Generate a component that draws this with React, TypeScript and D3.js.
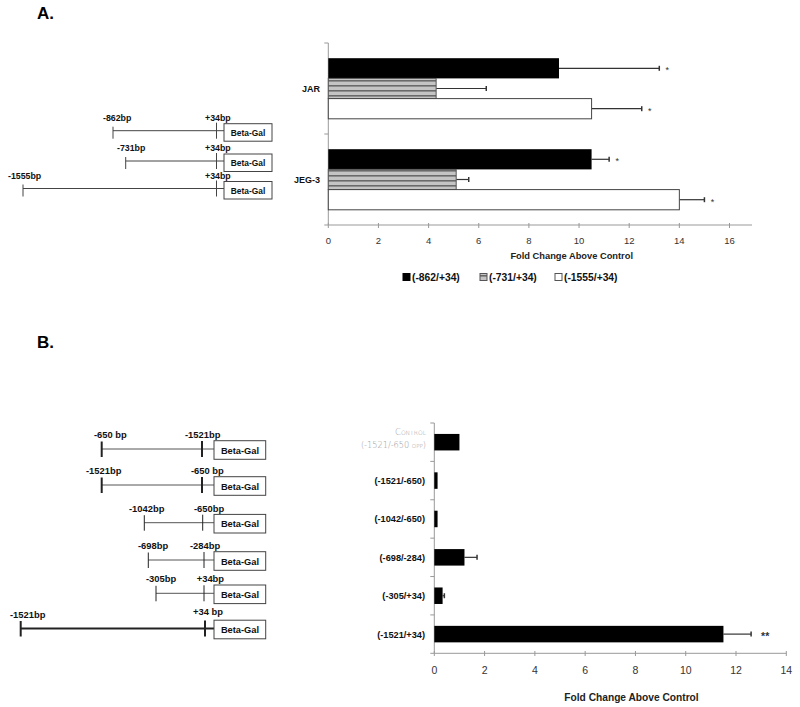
import React from "react";
import * as d3 from "d3";

// ---------- Panel A data ----------
const categoriesA = ["JAR", "JEG-3"];
const seriesA = ["(-862/+34)", "(-731/+34)", "(-1555/+34)"];
const valuesA = [
  [9.2, 4.3, 10.5],
  [10.5, 5.1, 14.0],
];
const errorsA = [
  [4.0, 2.0, 2.0],
  [0.7, 0.5, 1.0],
];
const starsA = [
  ["*", "", "*"],
  ["*", "", "*"],
];
const ticksA = [0, 2, 4, 6, 8, 10, 12, 14, 16];

// ---------- Panel B data ----------
const categoriesB = ["Control", "(-1521/-650)", "(-1042/-650)", "(-698/-284)", "(-305/+34)", "(-1521/+34)"];
const valuesB = [1.0, 0.13, 0.13, 1.2, 0.33, 11.5];
const errorsB = [0, 0, 0, 0.5, 0.07, 1.1];
const starsB = ["", "", "", "", "", "**"];
const ticksB = [0, 2, 4, 6, 8, 10, 12, 14];

// ---------- Construct labels ----------
const constructLabelsA = [
  ["-862bp", "+34bp"],
  ["-731bp", "+34bp"],
  ["-1555bp", "+34bp"],
];
const constructLabelsB = [
  ["-650 bp", "-1521bp"],
  ["-1521bp", "-650 bp"],
  ["-1042bp", "-650bp"],
  ["-698bp", "-284bp"],
  ["-305bp", "+34bp"],
  ["-1521bp", "+34 bp"],
];

// ---------- Schematic layout (drawing positions) ----------
const layoutA = [
  { y: 130.7, lx: 113, llx: 103, rx: 216.5, rlx: 205 },
  { y: 161, lx: 125.7, llx: 117, rx: 216.5, rlx: 205 },
  { y: 188.5, lx: 23, llx: 8, rx: 216.5, rlx: 205 },
];
const layoutB = [
  { y: 449, lx: 101.7, llx: 94, rx: 202, rlx: 185, tw: 2, lw: 1 },
  { y: 485, lx: 101.7, llx: 86, rx: 202, rlx: 191, tw: 2, lw: 1 },
  { y: 522.7, lx: 144.3, llx: 129, rx: 202.7, rlx: 194, tw: 1, lw: 1 },
  { y: 560, lx: 148.3, llx: 138, rx: 204, rlx: 190, tw: 1, lw: 1 },
  { y: 593.3, lx: 156, llx: 146, rx: 204, rlx: 196.7, tw: 1, lw: 1 },
  { y: 628.5, lx: 20.7, llx: 10, rx: 205, rlx: 193, tw: 2, lw: 2 },
];

const FONT = "'Liberation Sans', Arial, Helvetica, sans-serif";

export default function App() {
  // Panel A scales
  const xA = d3.scaleLinear().domain([0, 16]).range([328.3, 729.5]);
  const yA = d3.scaleBand<string>().domain(categoriesA).range([43, 225]);
  const bwA = yA.bandwidth();
  const padA = bwA * 0.167;

  // Panel B scales
  const xB = d3.scaleLinear().domain([0, 14]).range([434.3, 786.3]);
  const yB = d3.scaleBand<string>().domain(categoriesB).range([423, 653.3]);
  const bwB = yB.bandwidth();
  const barHB = bwB * 0.43;

  const fills = ["#000", "url(#stripes)", "#fff"];
  const strokes = ["#000", "#555", "#444"];

  return (
    <svg width={800} height={707} style={{ position: "absolute", left: 0, top: 0, background: "#fff" }} fontFamily={FONT}>
      <defs>
        <pattern id="stripes" patternUnits="userSpaceOnUse" width={6} height={5}>
          <rect width={6} height={5} fill="#c4c4c4" />
          <rect y={0} width={6} height={1.6} fill="#6a6a6a" />
        </pattern>
      </defs>
      <rect width={800} height={707} fill="#fff" />

      {/* ---------- Panel A ---------- */}
      <text x={37} y={19} fontSize={17} fontWeight="bold">A.</text>

      {/* constructs A */}
      {layoutA.map((r, i) => (
        <g key={"ca" + i} stroke="#444" strokeWidth={1}>
          <line x1={r.lx} x2={224} y1={r.y} y2={r.y} />
          <line x1={r.lx} x2={r.lx} y1={r.y - 4} y2={r.y + 8} />
          <line x1={r.rx} x2={r.rx} y1={r.y - 8} y2={r.y + 8} />
          <rect x={224} y={r.y - 7} width={48} height={17.5} fill="#fff" stroke="#444" />
          <text x={248} y={r.y + 5} fontSize={8.4} fontWeight="bold" textAnchor="middle" stroke="none" fill="#111">Beta-Gal</text>
          <text x={r.llx} y={r.y - 10} fontSize={8.8} fontWeight="bold" stroke="none" fill="#111">{constructLabelsA[i][0]}</text>
          <text x={r.rlx} y={r.y - 10} fontSize={8.8} fontWeight="bold" stroke="none" fill="#111">{constructLabelsA[i][1]}</text>
        </g>
      ))}

      {/* axes A */}
      <line x1={xA(0)} x2={xA(0)} y1={43} y2={225} stroke="#999" />
      {[43, 225].concat([yA(categoriesA[1]) as number]).map((t, i) => (
        <line key={"ayt" + i} x1={xA(0) - 4} x2={xA(0)} y1={t} y2={t} stroke="#999" />
      ))}
      <line x1={xA(0)} x2={752} y1={225} y2={225} stroke="#999" />
      {ticksA.map((t) => (
        <g key={"axt" + t}>
          <line x1={xA(t)} x2={xA(t)} y1={223} y2={228} stroke="#999" />
          <text x={xA(t)} y={243.5} fontSize={9.5} textAnchor="middle" fill="#333">{t}</text>
        </g>
      ))}
      <text x={571.7} y={258.5} fontSize={9.3} fontWeight="bold" textAnchor="middle" fill="#222">Fold Change Above Control</text>

      {categoriesA.map((c, ci) => {
        const y0 = (yA(c) as number) + padA;
        const sub = d3.scaleBand<string>().domain(seriesA).range([y0, y0 + bwA - 2 * padA]);
        return (
          <g key={"ga" + c}>
            <text x={320} y={(yA(c) as number) + bwA / 2 + 3.5} fontSize={9} fontWeight="bold" textAnchor="end" fill="#111">{c}</text>
            {seriesA.map((s, si) => {
              const v = valuesA[ci][si];
              const e = errorsA[ci][si];
              const yy = sub(s) as number;
              const h = sub.bandwidth();
              const cy = yy + h / 2;
              return (
                <g key={s}>
                  <line x1={xA(v)} x2={xA(v + e)} y1={cy} y2={cy} stroke="#333" strokeWidth={1.2} />
                  <line x1={xA(v + e)} x2={xA(v + e)} y1={cy - 2.5} y2={cy + 2.5} stroke="#333" strokeWidth={1.5} />
                  <rect x={xA(0)} y={yy} width={xA(v) - xA(0)} height={h} fill={fills[si]} stroke={strokes[si]} strokeWidth={si === 0 ? 0 : 1} />
                  {starsA[ci][si] && (
                    <text x={xA(v + e) + 8} y={cy + 5} fontSize={9} textAnchor="middle" fill="#333">{starsA[ci][si]}</text>
                  )}
                </g>
              );
            })}
          </g>
        );
      })}

      {/* legend A */}
      {seriesA.map((s, si) => {
        const lx = [403, 480, 555][si];
        return (
          <g key={"lg" + s}>
            <rect x={lx} y={273.5} width={7} height={7} fill={fills[si]} stroke={si === 0 ? "#000" : "#555"} strokeWidth={1} />
            <text x={lx + 9} y={281} fontSize={10.3} fontWeight="bold" fill="#111">{s}</text>
          </g>
        );
      })}

      {/* ---------- Panel B ---------- */}
      <text x={37} y={348} fontSize={17} fontWeight="bold">B.</text>

      {layoutB.map((r, i) => (
        <g key={"cb" + i}>
          <line x1={r.lx} x2={214} y1={r.y} y2={r.y} stroke={r.lw > 1 ? "#222" : "#555"} strokeWidth={r.lw} />
          <line x1={r.lx} x2={r.lx} y1={r.y - 7.5} y2={r.y + 8} stroke="#222" strokeWidth={r.tw} />
          <line x1={r.rx} x2={r.rx} y1={r.y - 8} y2={r.y + 8} stroke="#222" strokeWidth={r.tw} />
          <rect x={214} y={r.y - 8.3} width={51.7} height={18.6} fill="#fff" stroke="#444" strokeWidth={1} />
          <text x={240} y={r.y + 4.5} fontSize={9.3} fontWeight="bold" textAnchor="middle" fill="#111">Beta-Gal</text>
          <text x={r.llx} y={r.y - 11} fontSize={9.4} fontWeight="bold" fill="#111">{constructLabelsB[i][0]}</text>
          <text x={r.rlx} y={r.y - (i === 5 ? 14 : 11)} fontSize={9.4} fontWeight="bold" fill="#111">{constructLabelsB[i][1]}</text>
        </g>
      ))}

      {/* axes B */}
      <line x1={xB(0)} x2={xB(0)} y1={423} y2={653.3} stroke="#999" />
      {categoriesB.map((c, i) => (
        <line key={"byt" + i} x1={xB(0) - 4} x2={xB(0)} y1={(yB(c) as number)} y2={(yB(c) as number)} stroke="#999" />
      ))}
      <line x1={xB(0) - 4} x2={xB(0)} y1={653.3} y2={653.3} stroke="#999" />
      <line x1={xB(0)} x2={xB(14)} y1={653.3} y2={653.3} stroke="#999" />
      {ticksB.map((t) => (
        <g key={"bxt" + t}>
          <line x1={xB(t)} x2={xB(t)} y1={651} y2={656} stroke="#999" />
          <text x={xB(t)} y={674} fontSize={10.5} textAnchor="middle" fill="#333">{t}</text>
        </g>
      ))}
      <text x={631.5} y={700.5} fontSize={10.2} fontWeight="bold" textAnchor="middle" fill="#222">Fold Change Above Control</text>

      {categoriesB.map((c, i) => {
        const cy = (yB(c) as number) + bwB / 2;
        const v = valuesB[i];
        const e = errorsB[i];
        return (
          <g key={"gb" + c}>
            {i === 0 ? (
              <g fill="#9a9a9a" fontFamily="'DejaVu Sans', sans-serif" fontWeight={300} textAnchor="end">
                <text x={426} y={cy - 7} fontSize={8.5}>
                  C<tspan fontSize={6}>ONTROL</tspan>
                </text>
                <text x={426} y={cy + 5.5} fontSize={8.2}>
                  (-1521/-650 <tspan fontSize={5.5}>OPP</tspan>)
                </text>
              </g>
            ) : (
              <text x={425} y={cy + 3.5} fontSize={9.2} fontWeight="bold" textAnchor="end" fill="#111">{c}</text>
            )}
            {e > 0 && (
              <g>
                <line x1={xB(v)} x2={xB(v + e)} y1={cy} y2={cy} stroke="#333" strokeWidth={1.2} />
                <line x1={xB(v + e)} x2={xB(v + e)} y1={cy - 2.5} y2={cy + 2.5} stroke="#333" strokeWidth={1.5} />
              </g>
            )}
            <rect x={xB(0)} y={cy - barHB / 2} width={xB(v) - xB(0)} height={barHB} fill="#000" />
            {starsB[i] && (
              <text x={xB(v + e) + 10} y={cy + 5.5} fontSize={10.5} fontWeight="bold" fill="#333">{starsB[i]}</text>
            )}
          </g>
        );
      })}
    </svg>
  );
}
